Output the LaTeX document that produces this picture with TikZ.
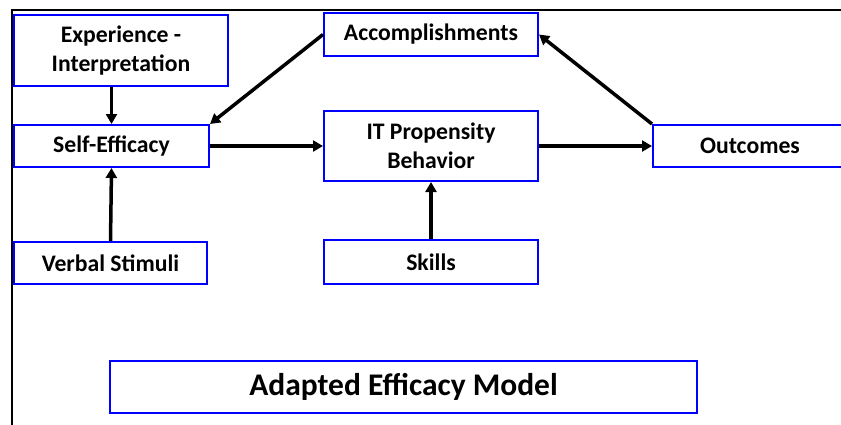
\documentclass[tikz,border=0pt]{standalone}
\usepackage{fontspec}
\setmainfont{Carlito}
\usepackage{tikz}
\usetikzlibrary{arrows.meta, positioning}

\begin{document}
\begin{tikzpicture}[
        x=1pt, y=-1pt,
        box/.style={rectangle, draw=blue, line width=2pt, inner sep=0pt, align=center,
            font=\bfseries\fontsize{23.7}{29}\selectfont},
        arrow/.style={line width=3.5pt, -{Triangle[length=10pt,width=11pt]}}
    ]
        \useasboundingbox (0,0) rectangle (841,424);
        \clip (0,0) rectangle (841,424);
        \draw[line width=2pt] (12,440) -- (12,10) -- (860,10);
        \node[box, minimum width=214pt, minimum height=71pt] (exp) at (121,50.5) {Experience -\\Interpretation};
        \node[box, minimum width=195pt, minimum height=42pt] (self) at (111.5,146) {Self-Efficacy};
        \node[box, minimum width=193pt, minimum height=42pt] (verbal) at (110.5,263) {Verbal Stimuli};
        \node[box, minimum width=214pt, minimum height=43pt] (acc) at (431,34.5) {Accomplishments};
        \node[box, minimum width=214pt, minimum height=70pt] (itp) at (431,146) {IT Propensity\\Behavior};
        \node[box, minimum width=214pt, minimum height=44pt] (skills) at (431,262) {Skills};
        \node[box, minimum width=194pt, minimum height=42pt] (out) at (750,146) {Outcomes};
        \node[box, minimum width=587pt, minimum height=52pt, font=\bfseries\fontsize{31.5}{36}\selectfont] (title) at (403.5,387) {Adapted Efficacy Model};
        \draw[arrow] (self.north |- exp.south) -- (self.north);
        \draw[arrow] (verbal.north) -- (self.south);
        \draw[arrow] (acc.west) -- (self.north east);
        \draw[arrow] (self.east) -- (itp.west);
        \draw[arrow] (skills.north) -- (itp.south);
        \draw[arrow] (itp.east) -- (out.west);
        \draw[arrow] (out.north west) -- (acc.east);
    \end{tikzpicture}
\end{document}
